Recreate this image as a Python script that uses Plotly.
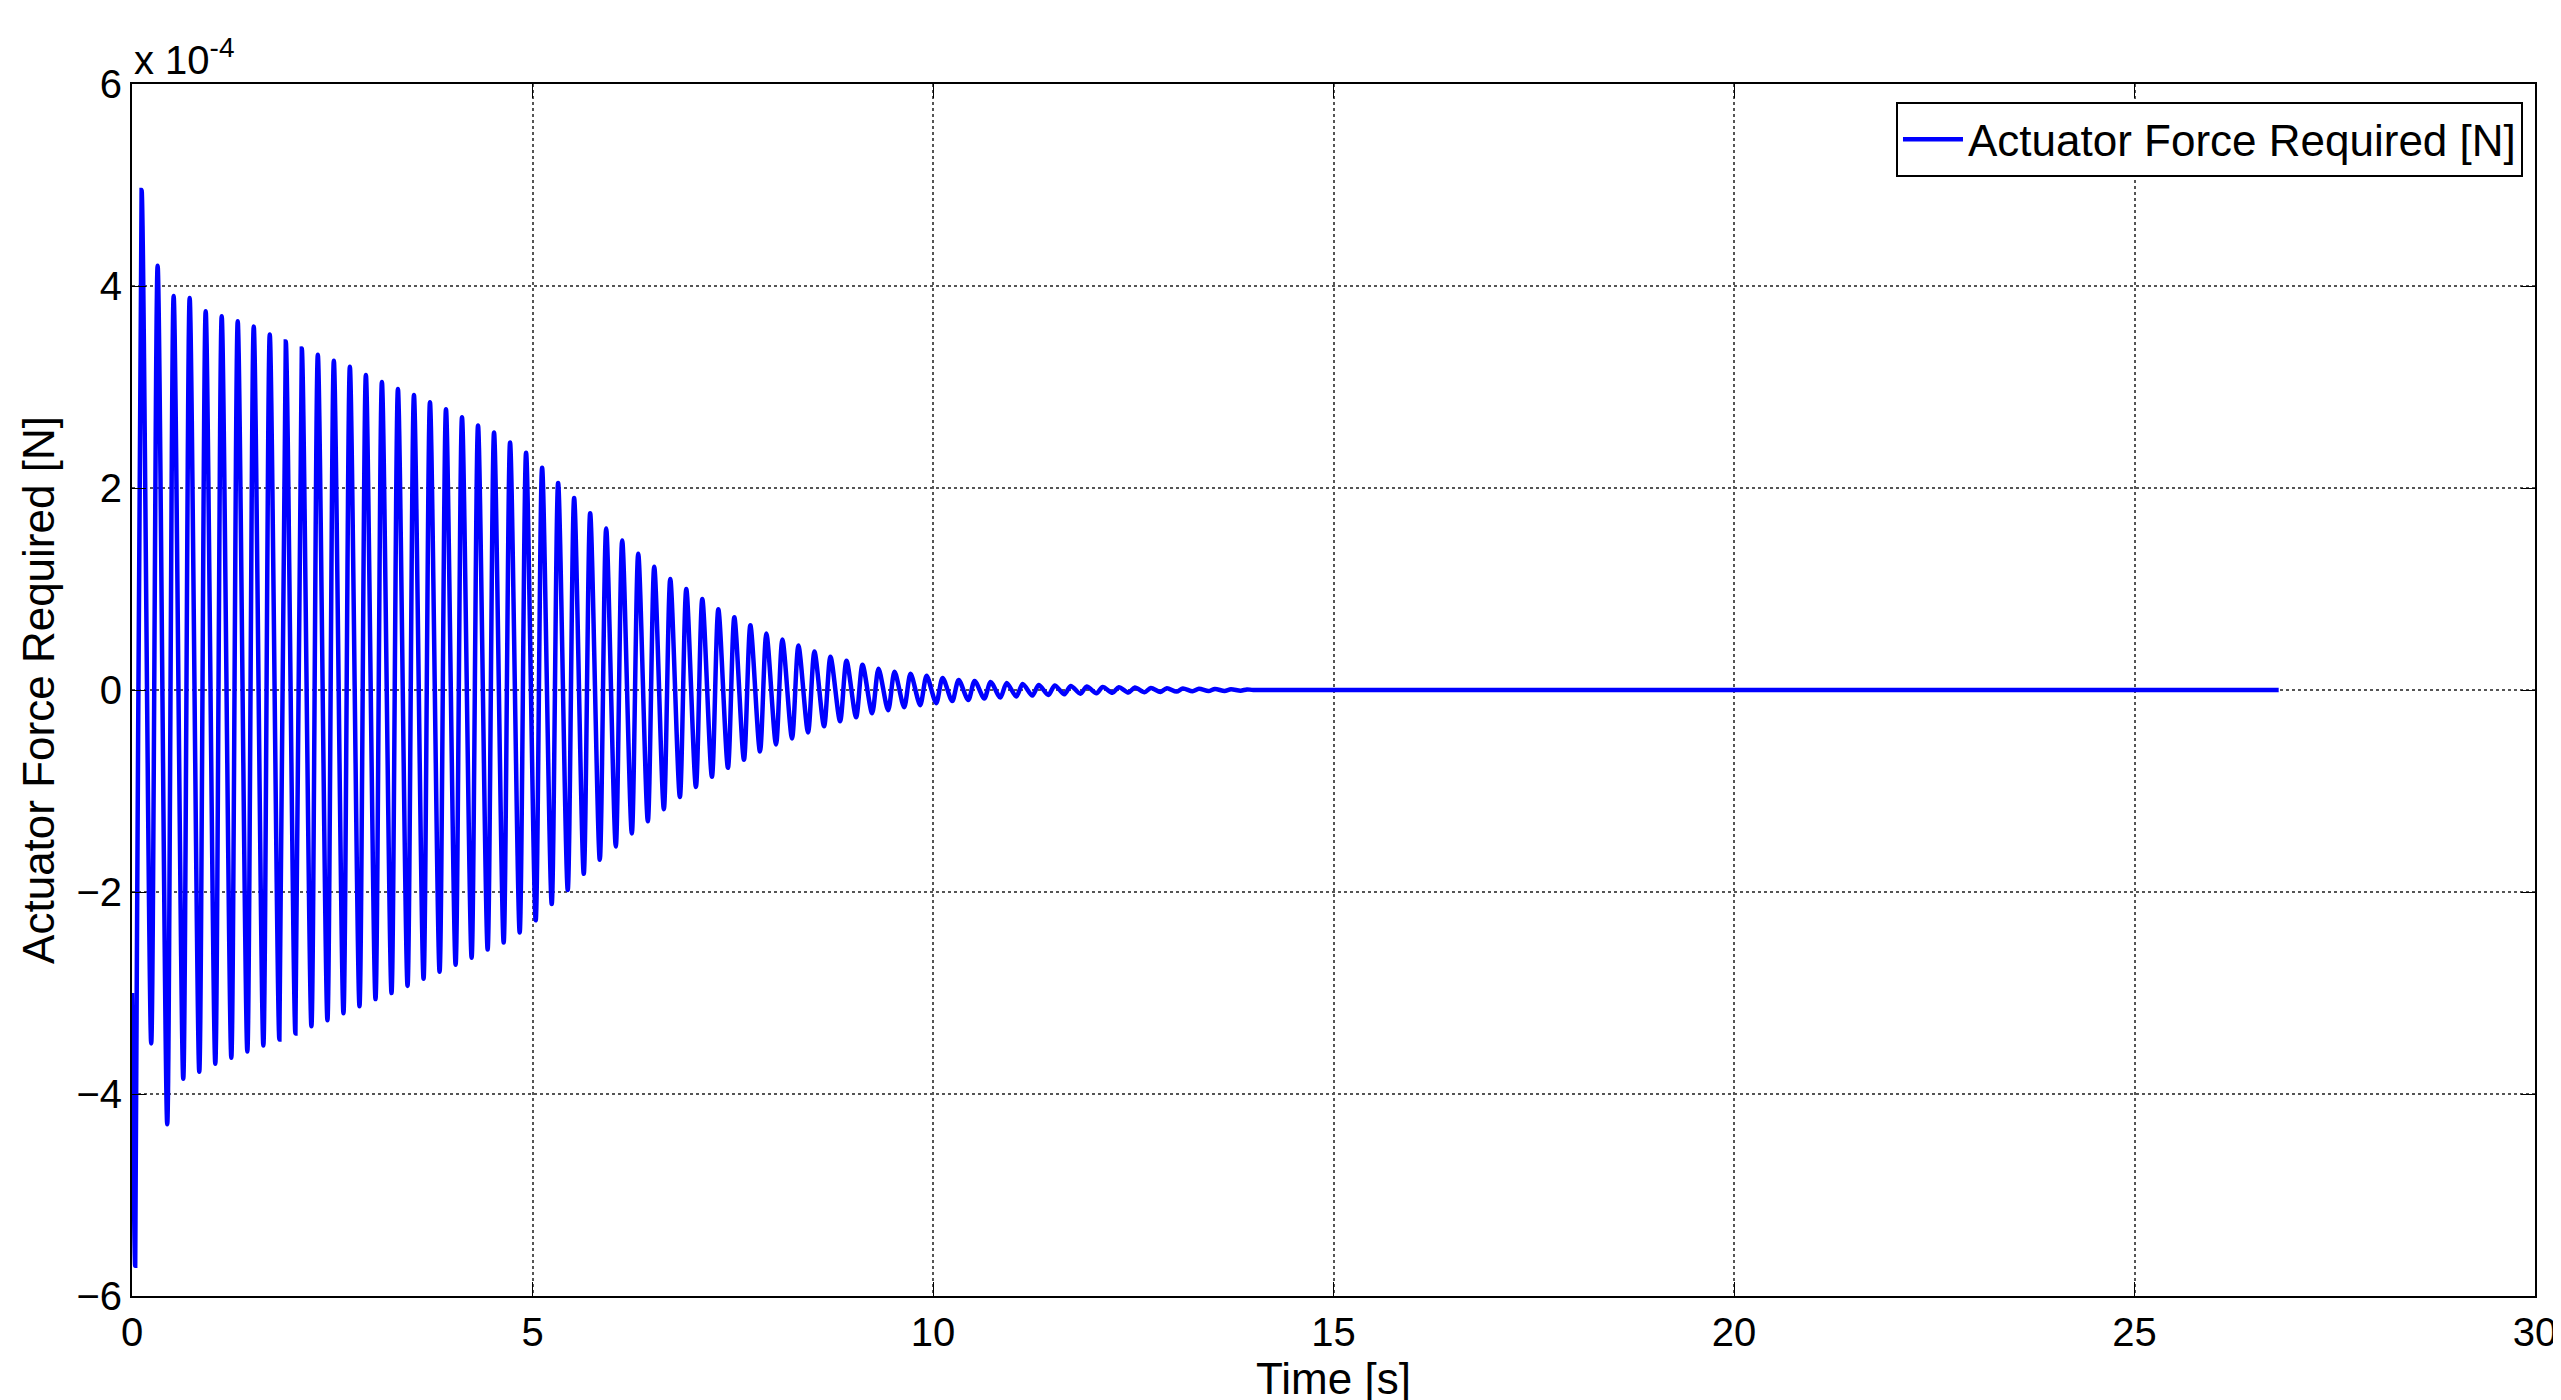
import plotly.graph_objects as go

# Values in units of 1e-4 N
period = 0.2
peak_values = [4.95, 4.2, 3.9, 3.88, 3.75, 3.7, 3.65, 3.6, 3.52, 3.45, 3.38, 3.32, 3.26, 3.2, 3.12,
               3.05, 2.98, 2.92, 2.85, 2.78, 2.7, 2.62, 2.55, 2.45, 2.35, 2.2, 2.05, 1.9, 1.75, 1.6,
               1.48, 1.35, 1.22, 1.1, 1.0, 0.9, 0.8, 0.72, 0.64, 0.56, 0.5, 0.44, 0.38, 0.33, 0.29,
               0.25, 0.21, 0.18, 0.16, 0.14, 0.12, 0.1, 0.09, 0.08, 0.07, 0.06, 0.05, 0.045, 0.04,
               0.035, 0.03, 0.027, 0.024, 0.02, 0.018, 0.015, 0.012, 0.01, 0.008, 0.006]
trough_values = [-5.7, -3.5, -4.3, -3.85, -3.78, -3.7, -3.64, -3.58, -3.52, -3.46, -3.4, -3.33, -3.27,
                 -3.2, -3.13, -3.06, -3.0, -2.93, -2.86, -2.79, -2.72, -2.65, -2.57, -2.5, -2.4,
                 -2.28, -2.12, -1.98, -1.82, -1.68, -1.55, -1.42, -1.3, -1.18, -1.06, -0.96, -0.86,
                 -0.77, -0.69, -0.61, -0.54, -0.48, -0.42, -0.36, -0.31, -0.27, -0.23, -0.2, -0.17,
                 -0.15, -0.13, -0.11, -0.1, -0.085, -0.075, -0.065, -0.055, -0.05, -0.042, -0.037,
                 -0.032, -0.028, -0.025, -0.022, -0.019, -0.016, -0.013, -0.011, -0.009, -0.007]
start_value = -3.0
end_time = 26.8
end_value = 0.0

t = [0.0]
y = [start_value]
for k in range(len(peak_values)):
    t.append(k * period + 0.04)
    y.append(trough_values[k])
    t.append(k * period + 0.12)
    y.append(peak_values[k])
t += [len(peak_values) * period, end_time]
y += [0.0, end_value]

fig = go.Figure(go.Scatter(x=t, y=y, mode="lines", line=dict(color="#0000ff", width=4.5, shape="spline", smoothing=0.8),
                           name="Actuator Force Required [N]"))

ax = dict(showline=True, linecolor="black", linewidth=2, mirror="ticks", ticks="inside", ticklen=14,
          tickcolor="black", showgrid=True, gridcolor="#555", griddash="dot", gridwidth=1.5,
          zeroline=False, tickfont=dict(size=40, color="black"))
fig.update_xaxes(range=[0, 30], dtick=5, title=dict(text="Time [s]", font=dict(size=44), standoff=4), **ax)
fig.update_yaxes(range=[-6, 6], dtick=2, title=dict(text="Actuator Force Required [N]", font=dict(size=44), standoff=8), **ax)
fig.add_annotation(xref="paper", yref="paper", x=0, y=1, xanchor="left", yanchor="bottom",
                   text="x 10<sup>-4</sup>", showarrow=False, font=dict(size=40, color="black"))
fig.update_layout(width=2561, height=1400, margin=dict(l=124, r=34, t=76, b=112),
                  plot_bgcolor="white", paper_bgcolor="white",
                  font=dict(family="Liberation Sans, Arial", color="black"),
                  showlegend=True,
                  legend=dict(x=0.995, y=0.985, xanchor="right", yanchor="top", bordercolor="black",
                              borderwidth=2, bgcolor="white", font=dict(size=44), itemwidth=60))
fig.write_html("out.html")
